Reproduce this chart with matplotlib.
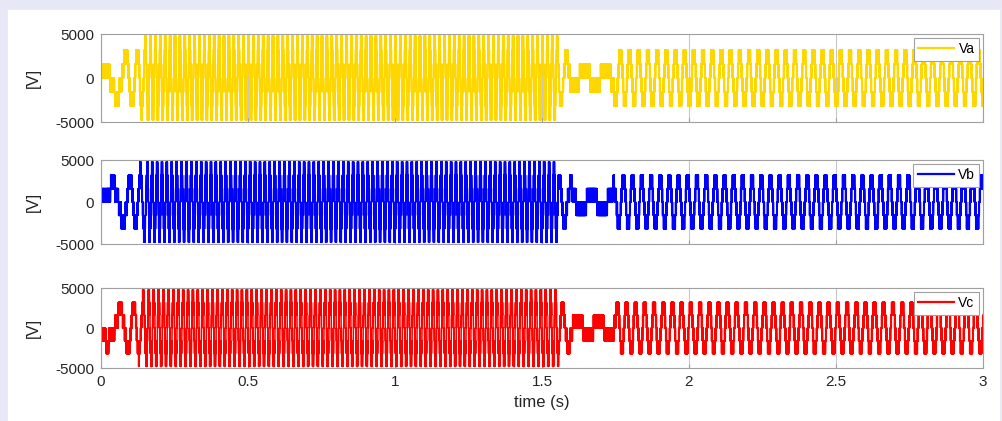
import numpy as np
import matplotlib.pyplot as plt
from matplotlib.patches import Rectangle

plt.rcParams['font.family'] = ['Liberation Sans', 'DejaVu Sans']
plt.rcParams['axes.unicode_minus'] = False

# drive profile: knot times (s), frequency (Hz), reference amplitude (V)
t_knots = [0.0, 0.06, 0.14, 0.16, 1.55, 1.56, 1.61, 1.74, 1.76, 3.0]
f_knots = [3.0, 14.0, 35.0, 60.0, 60.0, 32.0, 14.0, 14.0, 32.0, 32.0]
a_knots = [1450, 2000, 3500, 4500, 4500, 3000, 1500, 1500, 3000, 3000]

step = 1600          # inverter voltage step (V)
n_levels = 3         # levels each side of zero
carrier_hz = 1500
theta0 = 118.0       # start angle of phase a (deg)

phases = ['Va', 'Vb', 'Vc']
shifts = [0.0, -120.0, 120.0]
colors = ['#ffd700', '#0000ff', '#ff0000']

fs = 100000
t = np.arange(0, 3.0, 1.0 / fs)
f = np.interp(t, t_knots, f_knots)
amp = np.interp(t, t_knots, a_knots)
theta = np.deg2rad(theta0) + 2 * np.pi * np.cumsum(f) / fs
carrier = np.abs(2 * ((t * carrier_hz) % 1) - 1)


def inverter(shift):
    ref = amp * np.sin(theta + np.deg2rad(shift)) / step
    base = np.floor(ref)
    out = base + ((ref - base) > carrier)
    return step * np.clip(out, -n_levels, n_levels)


fig = plt.figure(figsize=(10.03, 4.21), dpi=100, facecolor='#e6e9f5')
fig.patches.append(Rectangle((8 / 1003, 0), 991 / 1003, 1 - 10 / 421,
                             transform=fig.transFigure, color='white', zorder=-1))

boxes = [(34, 122), (160, 244), (288, 368)]
for i, (name, sh, c) in enumerate(zip(phases, shifts, colors)):
    top, bot = boxes[i]
    ax = fig.add_axes([101 / 1003, 1 - bot / 421, 882 / 1003, (bot - top) / 421])
    ax.plot(t, inverter(sh), color=c, lw=1.1, label=name)
    ax.set_xlim(0, 3)
    ax.set_ylim(-5000, 5000)
    ax.set_yticks([-5000, 0, 5000])
    ax.set_xticks(np.arange(0, 3.01, 0.5))
    ax.set_xticklabels(['0', '0.5', '1', '1.5', '2', '2.5', '3'])
    ax.grid(axis='x', color='#c8c8c8', lw=0.8)
    ax.set_axisbelow(True)
    for s in ax.spines.values():
        s.set_color('#a0a0a0')
    ax.tick_params(direction='in', length=3, colors='#a0a0a0', labelcolor='#262626',
                   labelsize=11, pad=5)
    ax.set_ylabel('[V]', fontsize=12, color='#262626', labelpad=10)
    if i < 2:
        ax.tick_params(labelbottom=False)
    else:
        ax.set_xlabel('time (s)', fontsize=12, color='#262626', labelpad=4)
    leg = ax.legend(loc='upper right', fontsize=10, fancybox=False, framealpha=1,
                    edgecolor='#a0a0a0', borderaxespad=0.3, handlelength=2.6,
                    borderpad=0.3, handletextpad=0.3)
    leg.get_frame().set_linewidth(0.8)
    for h in leg.get_lines():
        h.set_linewidth(1.6)

fig.savefig('out.png', dpi=100, facecolor=fig.get_facecolor())
